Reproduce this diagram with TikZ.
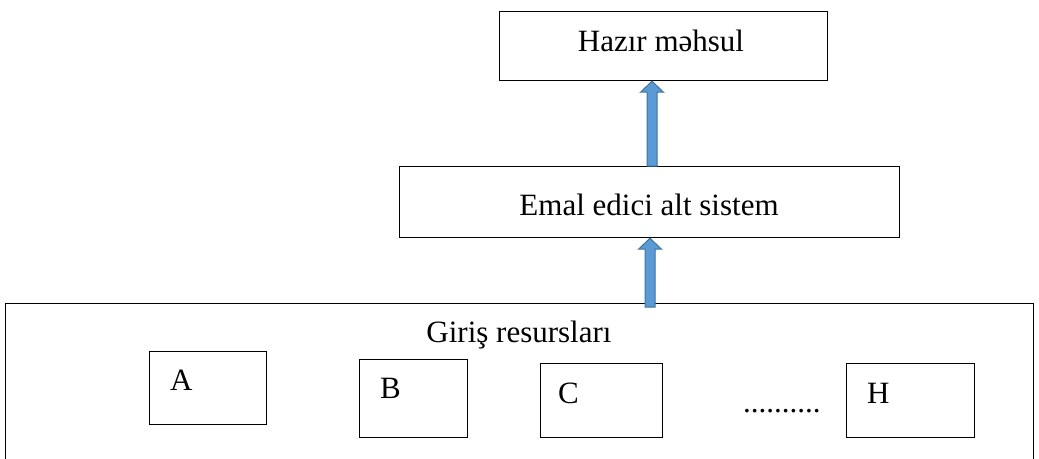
\documentclass[tikz,border=0pt]{standalone}
\usepackage{fontspec}
\setmainfont{Liberation Serif}
\usetikzlibrary{calc}
\definecolor{arrowfill}{HTML}{5B9BD5}
\definecolor{arrowline}{HTML}{41719C}
\tikzset{
  frame/.style 2 args={draw=black, line width=1.2pt, inner sep=0pt, anchor=north west,
    minimum width=#1pt, minimum height=#2pt},
  caption/.style={inner sep=0pt, font=\fontsize{31}{37}\selectfont},
  fatarrow/.style={fill=arrowfill, draw=arrowline, line width=1pt, line join=miter,
    to path={let \p1=(\tikztostart), \p2=(\tikztotarget) in
      (\x1-5pt,\y1) -- (\x1-5pt,\y2-11pt) -- (\x1-11.5pt,\y2-11pt) -- (\x1,\y2)
      -- (\x1+11.5pt,\y2-11pt) -- (\x1+5pt,\y2-11pt) -- (\x1+5pt,\y1) -- cycle}},
}
\begin{document}
\begin{tikzpicture}[x=1pt, y=-1pt]
  \useasboundingbox (0,0) rectangle (1039,458);

  % output stage
  \node[frame={328}{69}] (product) at (499,11) {};
  \node[caption, anchor=base] (productlbl) at (661,51) {Hazır məhsul};

  % processing stage
  \node[frame={500}{71}] (proc) at (399,166) {};
  \node[caption, anchor=base] (proclbl) at (649,215) {Emal edici alt sistem};

  % input resources
  \node[frame={1028}{160}] (inputs) at (5,303) {};
  \node[caption, anchor=base] (inputslbl) at (519,342) {Giriş resursları};

  \node[frame={117}{73}] (resA) at (149,351) {};
  \node[caption, anchor=base west] (lblA) at (170,390) {A};
  \node[frame={108}{78}] (resB) at (359,359) {};
  \node[caption, anchor=base west] (lblB) at (380,398) {B};
  \node[frame={122}{74}] (resC) at (540,363) {};
  \node[caption, anchor=base west] (lblC) at (558,403) {C};
  \node[caption, anchor=base west] (dots) at (743,412) {..........};
  \node[frame={128}{74}] (resH) at (846,363) {};
  \node[caption, anchor=base west] (lblH) at (867,403) {H};

  % block arrows
  \draw[fatarrow] ($(inputs.north -| 650,0)+(0,4)$) to (proc.south -| 650,0);
  \draw[fatarrow] (proc.north -| 652,0) to (product.south -| 652,0);
\end{tikzpicture}
\end{document}
